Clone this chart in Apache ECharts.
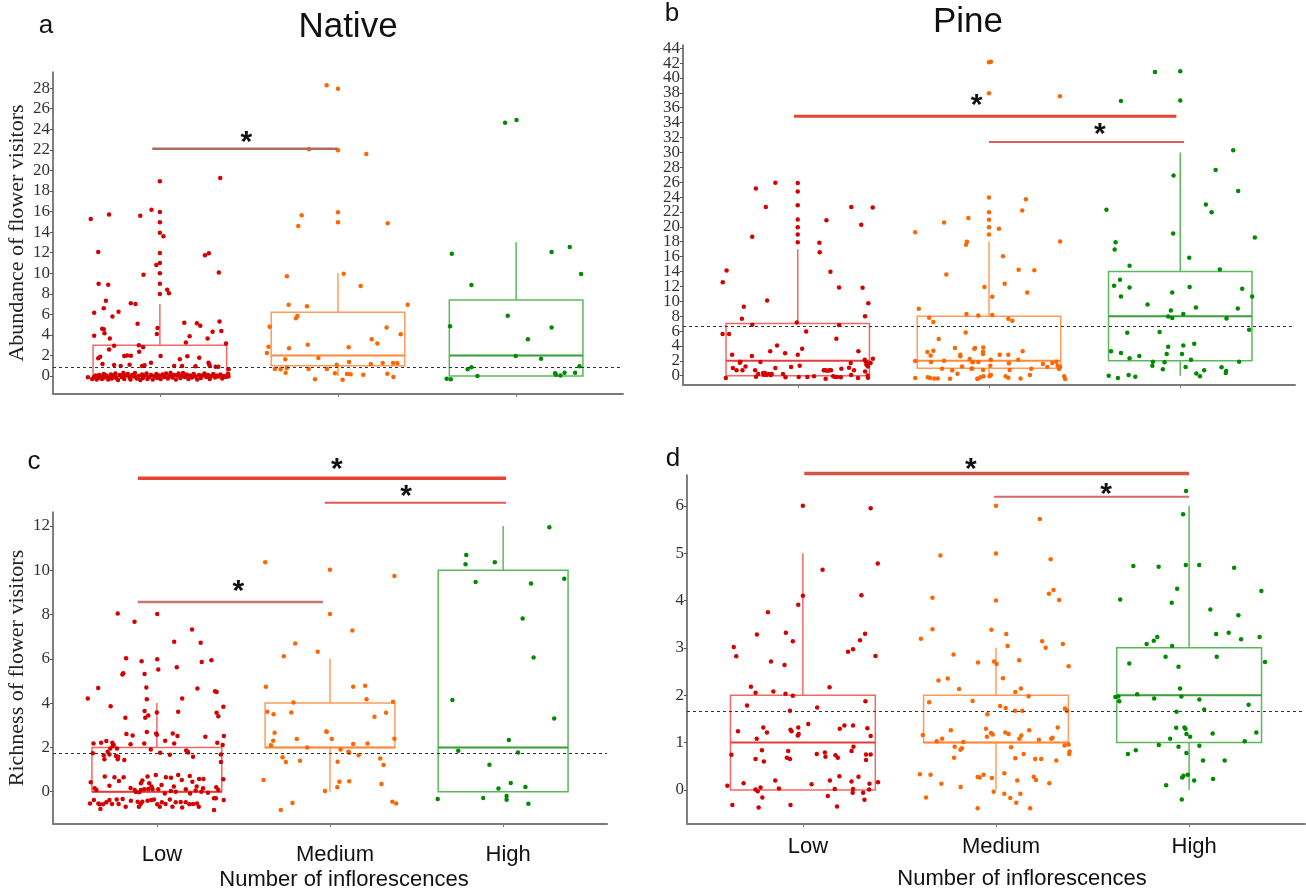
<!DOCTYPE html>
<html><head><meta charset="utf-8">
<script src="https://cdn.jsdelivr.net/npm/echarts@6/dist/echarts.min.js"></script>
<style>html,body{margin:0;padding:0;background:#fff}#c{width:1306px;height:891px}</style>
</head><body><div id="c"></div>
<script>
// ---------- DATA ----------
const categories = ['Low', 'Medium', 'High'];
const aTicks = [0,2,4,6,8,10,12,14,16,18,20,22,24,26,28];
const bTicks = [0,2,4,6,8,10,12,14,16,18,20,22,24,26,28,30,32,34,36,38,40,42,44];
const cTicks = [0,2,4,6,8,10,12];
const dTicks = [0,1,2,3,4,5,6];

// box stats per group: [lowerWhisker, Q1, median, Q3, upperWhisker]
const aBox = [[0,0,0,3,7],[0,1,2,6.2,10],[0,0,2,7.4,13]];
const bBox = [[0,0,2,7,17],[0,1,2,8,18],[0,2,8,14,30]];
const cBox = [[0,0,0,2,4],[0,2,2,4,6],[0,0,2,10,12]];
const dBox = [[0,0,1,2,5],[0,1,1,2,3],[0,1,2,3,6]];

// overall mean (dashed line) per panel a,b,c,d
const meanLines = [0.85, 6.6, 1.73, 1.67];

// significance bars: [fromX, toX, y, asteriskX]
const aSig = [[0.957, 2.0, 22.1, 1.485]];
const bSig = [[0.98, 2.98, 34.85, 1.935], [2.0, 3.02, 31.4, 2.58]];
const cSig = [[0.89, 3.017, 14.15, 2.04], [1.97, 3.017, 13.05, 2.44], [0.89, 1.96, 8.57, 1.47]];
const dSig = [[1.007, 3.0, 6.68, 1.87], [1.99, 3.0, 6.19, 2.57]];

// jittered points: [offset from category centre, value]
const aLow = [
[-0.388,15.27],[-0.346,12.06],[-0.344,8.98],[-0.29,8.88],[-0.285,15.7],[-0.369,6.16],[-0.303,7.33],[-0.315,6.6],[-0.266,5.8],[-0.232,6.26],
[-0.369,3.92],[-0.324,4.6],[-0.315,4.54],[-0.311,4.15],[-0.281,3.66],[-0.257,2.95],[-0.285,2.59],[-0.2,1.95],[-0.184,2.0],[-0.163,1.98],
[-0.335,1.88],[-0.346,1.72],[-0.322,1.17],[-0.257,1.07],[-0.163,7.07],[-0.137,7.0],[-0.11,15.6],[-0.092,9.86],[-0.125,5.09],[-0.118,2.98],
[-0.094,2.79],[-0.116,2.37],[-0.047,16.18],[0,18.94],[0,15.95],[0,14.95],[0,13.94],[0.02,13.59],[0,11.96],[0,11.0],
[-0.02,10.8],[0,9.99],[0,8.98],[0,7.98],[0.041,8.4],[0.051,8.04],[-0.013,4.67],[-0.017,4.09],[0.004,1.95],[-0.05,1.3],
[-0.086,1.04],[0.339,19.26],[0.253,11.74],[0.275,11.93],[0.331,10.08],[0.335,5.29],[0.345,4.38],[0.296,4.31],[0.268,3.66],[0.208,5.12],
[0.227,4.9],[0.137,5.19],[0.167,3.86],[0.146,3.27],[0.154,1.91],[0.221,1.78],[0.112,1.62],[0.371,3.15],[0.273,1.3],[0.277,1.13],
[0.313,0.91],[0.328,0.91],[0.386,0.65],[0.384,0.19],[-0.404,-0.13],
[-0.22,0.97],[-0.17,1.1],[-0.1,0.97],[0.08,0.97],[0.125,0.97],[0.2,0.95],[0.28,0.97],
[-0.38,-0.3],[-0.37,-0.1],[-0.36,0.05],[-0.355,-0.35],[-0.345,-0.2],[-0.34,0.1],[-0.33,-0.05],[-0.325,-0.3],[-0.315,0.2],[-0.31,-0.15],
[-0.3,0.05],[-0.29,-0.35],[-0.285,-0.1],[-0.275,0.15],[-0.27,-0.25],[-0.26,0.0],[-0.25,0.25],[-0.245,-0.2],[-0.235,-0.4],[-0.225,0.1],
[-0.215,-0.1],[-0.205,0.3],[-0.2,-0.3],[-0.19,0.05],[-0.18,0.2],[-0.17,-0.15],[-0.165,-0.35],[-0.155,0.1],[-0.145,-0.05],[-0.14,0.3],
[-0.13,-0.25],[-0.12,0.0],[-0.11,-0.4],[-0.1,0.15],[-0.095,-0.2],[-0.085,0.05],[-0.075,0.25],[-0.07,-0.3],[-0.06,-0.1],[-0.05,0.1],
[-0.04,-0.35],[-0.03,0.0],[-0.02,0.2],[-0.015,-0.2],[-0.005,0.05],[0.005,-0.3],[0.015,0.15],[0.025,-0.1],[0.035,0.25],[0.045,-0.25],
[0.055,0.0],[0.06,0.3],[0.07,-0.15],[0.08,0.1],[0.09,-0.35],[0.1,0.05],[0.105,0.25],[0.115,-0.2],[0.125,0.0],[0.13,0.3],
[0.14,-0.1],[0.15,0.15],[0.16,-0.3],[0.17,0.05],[0.18,-0.15],[0.19,0.2],[0.2,-0.05],[0.21,-0.35],[0.22,0.1],[0.23,-0.2],
[0.24,0.05],[0.25,0.25],[0.26,-0.1],[0.27,0.1],[0.28,-0.3],[0.29,0.0],[0.3,0.2],[0.31,-0.15],[0.32,0.05],[0.33,-0.05],
[0.34,0.15],[0.35,-0.25],[0.36,0.0],[0.37,-0.1],[0.38,0.1],[0.385,-0.05]
];
const aMed = [
[-0.064,28.27],[-0.163,22.05],[-0.204,15.63],[-0.223,14.59],[-0.287,9.7],[-0.277,6.94],[-0.174,6.78],[-0.228,5.84],[-0.236,5.61],[-0.384,4.8],
[-0.39,2.85],[-0.399,2.24],[-0.275,2.69],[-0.17,3.05],[-0.296,1.62],[-0.11,1.75],[-0.354,0.68],[-0.322,0.65],[-0.287,0.78],[-0.294,0.32],
[-0.165,0.68],[-0.062,0.68],[-0.129,-0.32],[0,27.95],[0,21.95],[0.159,21.6],[0,15.92],[0,14.95],[0.279,14.85],[0.032,9.95],
[0.127,8.75],[0.391,6.94],[0.273,4.73],[0.352,4.05],[0.189,3.57],[0.221,3.15],[0.06,2.79],[0.062,1.36],[0.184,1.17],[0.251,1.26],
[0.309,1.26],[0.333,1.23],[-0.007,1.1],[-0.017,0.26],[0.051,0.19],[0.071,0.16],[0.142,0.13],[0.277,0.23],[0.311,-0.1],[0.026,-0.36]
];
const aHigh = [
[-0.062,24.64],[0.002,24.9],[-0.361,11.9],[-0.251,8.85],[0.199,12.06],[0.301,12.55],[0.365,9.92],[-0.047,5.87],[-0.371,4.83],[0.199,4.73],
[0.066,3.57],[-0.002,1.95],[0.14,1.69],[-0.272,0.65],[-0.251,0.84],[0.356,0.94],[-0.39,-0.26],[-0.367,-0.32],[-0.217,0],[0.219,0.26],
[0.223,0.13],[0.249,0.06],[0.272,0.32],[0.331,0.32]
];
const bLow = [
[-0.392,12.57],[-0.372,14.14],[-0.393,5.59],[-0.359,5.59],[-0.343,2.82],[-0.339,1.03],[-0.32,0.72],[-0.376,-0.31],[-0.282,9.26],[-0.292,7.65],
[-0.303,1.74],[-0.3,1.88],[-0.273,1.25],[-0.289,0.72],[-0.238,18.66],[-0.219,25.15],[-0.167,22.68],[-0.117,25.91],[-0.16,10.11],[-0.238,6.85],
[-0.24,2.64],[-0.195,1.83],[-0.223,0.72],[-0.218,-0.13],[-0.207,0.22],[-0.181,0.36],[-0.178,0.13],[-0.171,0.36],[-0.164,0.09],[-0.151,0.22],
[-0.141,0.09],[-0.136,0.22],[-0.144,3.27],[-0.108,4.07],[-0.117,1.03],[-0.077,0.22],[-0.066,3.0],[-0.064,-0.22],[-0.035,1.16],[-0.005,7.16],
[0,25.9],[0,24.74],[0,22.9],[0,20.98],[0,19.96],[0,18.97],[0,17.94],[0,2.82],[0.01,1.34],[0.023,3.62],
[0.044,5.95],[0.005,-0.18],[0.05,-0.18],[0.085,-0.09],[0.113,17.85],[0.115,16.6],[0.15,20.9],[0.171,13.96],[0.216,11.86],[0.202,4.97],
[0.216,6.8],[0.136,0.72],[0.144,0.72],[0.155,0.67],[0.165,0.72],[0.174,0.72],[0.146,-0.4],[0.185,-0.09],[0.195,-0.18],[0.205,-0.18],
[0.225,-0.22],[0.228,0.94],[0.268,1.07],[0.28,22.68],[0.277,1.7],[0.294,0.72],[0.279,0.09],[0.317,3.27],[0.332,20.27],[0.339,11.81],
[0.352,8.0],[0.369,9.75],[0.315,-0.31],[0.35,2.15],[0.355,1.92],[0.362,1.7],[0.359,1.48],[0.367,1.25],[0.352,0.58],[0.366,0.04],
[0.367,-0.27],[0.381,1.7],[0.393,2.28],[0.392,22.6]
];
const bMed = [
[-0.386,19.28],[-0.386,1.97],[-0.386,-0.31],[-0.367,8.99],[-0.313,7.79],[-0.291,7.2],[-0.322,3.18],[-0.291,3.36],[-0.305,2.73],[-0.303,1.83],
[-0.32,-0.22],[-0.308,-0.31],[-0.286,-0.36],[-0.268,-0.36],[-0.263,4.92],[-0.235,20.58],[-0.223,13.6],[-0.245,0.94],[-0.235,2.01],[-0.204,-0.4],
[-0.193,0.72],[-0.178,3.71],[-0.165,0.27],[-0.15,2.82],[-0.15,2.6],[-0.141,1.25],[-0.122,5.82],[-0.12,17.6],[-0.115,18.0],[-0.108,21.2],
[-0.118,8.28],[-0.101,2.24],[-0.092,0.94],[-0.087,1.79],[-0.073,3.71],[-0.061,-0.4],[-0.056,8.1],
[0,42.1],[0.01,42.19],[0,37.94],[0.371,37.54],[0,23.94],[0,21.97],[0,20.94],[0,19.96],[0,18.97],
[0.193,23.71],[0.174,22.19],[0.052,19.73],[0.372,18.03],[0.073,16.06],[0.155,14.23],[0.237,14.18],[-0.024,11.9],[0.082,12.35],[0.2,11.19],
[0.017,10.6],[0.017,8.14],[0.101,7.65],[0.122,7.38],[-0.077,3.62],[-0.03,3.8],[-0.031,3.22],[-0.031,2.91],[0.056,2.82],[0.101,2.82],
[0.176,3.27],[-0.084,1.83],[-0.056,1.83],[0.009,2.15],[0.104,1.66],[0.153,2.15],[0.282,1.57],[0.305,1.16],[0.331,1.7],[0.352,1.88],
[0.359,1.34],[0.372,1.16],[0.366,0.89],[-0.087,0.98],[-0.031,0.76],[0.007,1.34],[0.108,0.76],[0.221,0.94],[-0.059,-0.4],[-0.044,-0.22],
[-0.028,-0.09],[0.003,-0.09],[0.01,0.09],[0.087,-0.09],[0.101,-0.27],[0.165,-0.36],[0.214,0.09],[0.393,-0.09],[0.398,-0.45]
];
const bHigh = [
[-0.132,40.8],[0,40.9],[-0.31,36.9],[0,36.96],[0.277,30.3],[0.185,27.65],[-0.035,26.9],[0.303,24.83],[-0.386,22.28],[0.134,23.0],
[0.164,21.97],[-0.338,17.94],[-0.343,16.96],[-0.037,19.1],[0.39,18.57],[0.047,15.84],[-0.265,14.77],[0.207,14.27],[-0.315,12.89],[-0.346,12.08],
[-0.265,11.86],[-0.31,10.65],[-0.042,11.19],[0.049,11.9],[0.324,11.68],[0.376,10.65],[-0.171,9.57],[-0.049,8.77],[0.082,9.17],[0.301,9.04],
[-0.063,7.96],[-0.042,7.74],[0.016,8.28],[0.242,7.7],[0.36,6.17],[-0.277,5.77],[-0.108,5.86],[-0.063,3.89],[0.016,4.07],[0.073,4.3],
[-0.362,3.27],[-0.31,3.04],[-0.071,2.91],[0.009,2.91],[-0.265,2.33],[-0.214,2.64],[0.056,2.15],[-0.143,1.88],[-0.082,1.79],[0.308,1.88],
[-0.146,1.34],[-0.091,0.85],[0.028,1.16],[0.216,1.12],[0.24,0.63],[0.238,0.36],[0.125,0.72],[0.084,0.31],[0.103,-0.09],[-0.374,0],
[-0.326,-0.31],[-0.27,0.09],[-0.235,-0.13]
];
const cLow = [
[-0.399,4.21],[-0.339,4.68],[-0.386,-0.53],[-0.382,0.42],[-0.37,1.73],[-0.366,2.18],[-0.359,0.15],[-0.349,0.08],
[-0.364,-0.38],[-0.338,-0.53],[-0.326,-0.78],[-0.332,-0.57],[-0.311,-0.57],[-0.292,-0.48],[-0.274,-0.38],[-0.259,-0.56],[-0.232,-0.35],[-0.221,-0.56],
[-0.198,-0.33],[-0.18,-0.68],[-0.15,-0.41],[-0.111,-0.45],[-0.104,-0.68],[-0.094,-0.56],[-0.084,-0.45],[-0.054,-0.41],[-0.033,-0.38],[-0.017,-0.35],
[0.002,-0.57],[0.017,-0.68],[0.029,-0.48],[0.05,-0.56],[0.075,-0.35],[0.09,-0.68],[0.109,-0.48],[0.138,-0.47],[0.146,-0.71],[0.167,-0.48],
[0.188,-0.57],[0.209,-0.56],[0.232,-0.53],[0.242,-0.68],[0.33,-0.3],[0.341,-0.3],[0.33,-0.83],[0.386,-0.38],
[-0.322,2.21],[-0.292,2.29],[-0.257,2.21],[-0.249,2.11],[-0.307,1.64],[-0.303,1.46],[-0.274,1.68],[-0.284,1.8],[-0.269,1.95],[-0.255,2.06],
[-0.236,1.61],[-0.224,1.58],[-0.226,1.46],[-0.23,1.95],[-0.188,1.43],[-0.176,2.6],[-0.14,2.54],[-0.152,2.14],[-0.073,2.17],[-0.058,2.69],
[-0.035,1.91],[-0.004,2.63],[0,2.57],[0.019,1.76],[0.048,2.3],[0.075,1.67],[0.092,2.63],[0.119,2.51],[0.1,2.18],[0.169,1.86],
[0.178,1.8],[0.209,1.58],[0.18,1.77],[0.28,2.48],[0.349,2.21],[0.38,2.11],[0.387,2.51],[0.37,1.34],[0.37,1.68],
[-0.267,3.86],[-0.226,8.05],[-0.129,7.67],[-0.178,6.02],[-0.199,5.29],[-0.194,5.35],[-0.182,3.34],[-0.088,5.89],[-0.071,5.31],[-0.061,4.71],
[-0.058,4.17],[-0.071,3.64],[-0.05,3.44],[-0.067,3.34],[0.002,8.02],[0.002,5.98],[0.008,5.52],[0,3.58],[0.1,6.77],[0.115,5.62],
[0.146,4.21],[0.123,3.61],[0.203,7.32],[0.253,6.72],[0.259,5.86],[0.315,5.94],[0.234,4.66],[0.336,4.53],[0.345,4.5],[0.345,3.56],
[0.355,3.41],[0.384,3.83],
[-0.301,0.68],[-0.274,0.27],[-0.245,0.65],[-0.192,0.65],[-0.219,0.48],[-0.152,0.17],[-0.084,0.5],[-0.092,0.38],[-0.044,0.38],[-0.054,0.68],
[-0.031,0.23],[-0.006,0.75],[0.008,0.11],[0.027,0.3],[0.052,0.65],[0.082,0.63],[0.098,0.23],[0.123,0.75],[0.144,0.53],[0.19,0.71],
[0.205,0.45],[0.23,0.23],[0.244,0.57],[0.269,0.57],[0.295,-0.05],[0.343,0.2],[0.355,0.08],[0.384,0.56],[-0.128,0.08],[-0.121,-0.02],
[-0.102,-0.03],[-0.092,0.08],[-0.073,0.11],[-0.05,0.12],[-0.025,0.11],[0.046,-0.08],[0.081,0.03],[0.109,0],[0.167,0.11],[0.192,-0.08],
[0.224,0.05],[0.257,0],[0.267,0.15]
];
const cMed = [
[-0.374,10.36],[-0.267,6.12],[-0.201,6.69],[-0.071,6.32],[-0.37,4.74],[-0.362,3.61],[-0.326,3.5],[-0.224,3.58],[-0.211,4.03],[-0.32,2.66],
[-0.328,2.3],[-0.341,2.1],[-0.192,2.38],[-0.132,2.0],[-0.019,2.71],[-0.274,1.55],[-0.255,1.34],[-0.173,1.4],[-0.384,0.53],[-0.029,0.03],
[-0.217,-0.51],[-0.284,-0.83],[0,10.02],[0.372,9.74],[0,8.02],[0.129,7.28],[0.134,4.74],[0.203,4.78],[0.211,4.17],[0.364,4.06],
[0.324,3.56],[0.257,3.38],[-0.021,2.72],[0.01,2.38],[0.134,2.15],[0.217,2.18],[0.372,2.39],[0.061,1.91],[0.106,1.8],[0.111,1.76],
[0.165,1.65],[0.29,1.5],[0.309,1.2],[0.044,1.35],[0.054,0.45],[0.042,0.2],[0.111,0.47],[0.297,0.35],[0.36,-0.45],[0.382,-0.53]
];
const cHigh = [
[0.267,11.94],[-0.213,10.69],[-0.217,10.27],[-0.048,10.36],[-0.159,9.47],[0.161,9.4],[0.353,9.61],[0.113,7.82],[0.176,6.06],[-0.293,4.14],
[0.295,3.31],[0.033,2.33],[-0.259,1.85],[0.086,1.77],[-0.079,1.22],[0.044,0.39],[-0.027,0.14],[0.129,0.21],[-0.378,-0.33],[-0.115,-0.29],
[0.02,-0.2],[0.02,-0.36],[0.146,-0.54]
];
const dLow = [
[0,6.0],[0.351,5.95],[0.388,4.78],[0.102,4.65],[0,4.1],[0.303,4.11],[-0.024,3.91],[-0.181,3.75],[-0.238,3.28],[-0.088,3.32],
[-0.052,3.14],[-0.358,3.02],[-0.345,2.82],[-0.165,2.71],[-0.095,2.64],[0.234,2.92],[0.26,2.97],[0.296,3.16],[0.322,3.3],[0.376,2.83],
[-0.269,2.18],[-0.245,2.05],[-0.153,2.08],[-0.09,2.03],[-0.052,1.99],[0.138,2.17],[-0.289,1.78],[-0.067,1.67],[0.074,1.74],[0.324,1.87],
[-0.336,1.24],[-0.205,1.32],[-0.186,1.21],[-0.064,1.27],[-0.059,1.24],[-0.024,1.32],[-0.026,1.15],[-0.022,1.18],[0.028,1.39],[0.191,1.29],
[0.215,1.36],[0.26,1.36],[0.334,1.3],[0.351,1.14],[-0.239,1.08],[-0.37,0.74],[-0.212,0.84],[-0.245,0.65],[-0.202,0.6],[-0.076,0.82],
[-0.083,0.68],[-0.067,0.65],[0.072,0.76],[0.114,0.79],[0.117,0.7],[0.169,0.73],[0.181,0.68],[0.262,0.91],[0.252,0.82],[0.327,0.75],
[0.327,0.63],[0.351,0.75],[-0.307,0.14],[-0.391,0.09],[-0.143,0.2],[-0.124,0.03],[-0.245,0.01],[-0.219,0.05],[-0.234,-0.03],[-0.21,-0.16],
[0.045,0.12],[0.14,0.2],[0.189,0.29],[0.165,0.02],[0.129,-0.13],[0.252,0.18],[0.26,0.02],[0.258,-0.06],[0.288,0.28],[0.312,-0.06],
[0.319,-0.21],[0.345,0.13],[0.343,0.01],[0.389,0.16],[-0.365,-0.32],[-0.229,-0.37],[-0.064,-0.32],[0.177,-0.35]
];
const dMed = [
[-0.288,4.95],[-0.329,4.06],[-0.329,3.39],[-0.389,3.19],[-0.22,2.86],[-0.25,2.35],[-0.298,2.31],[-0.191,2.13],[-0.121,1.88],[-0.346,1.85],
[-0.379,1.16],[-0.234,1.26],[-0.307,1.03],[-0.279,1.08],[-0.169,1.01],[-0.214,0.91],[-0.184,0.85],[-0.177,0.88],[-0.217,0.68],[-0.394,0.33],
[-0.339,0.32],[-0.283,0.13],[-0.183,0.06],[-0.362,-0.16],[-0.095,0.27],[-0.095,-0.39],[-0.093,2.69],
[0,6.0],[0.227,5.72],[0,4.99],[0.283,4.87],[0,4.0],[0.274,4.14],[0.298,4.22],[0.327,4.01],[-0.024,3.38],
[0.053,3.29],[0.06,3.04],[0.239,3.14],[0.257,3.0],[0.346,3.08],[-0.01,2.71],[0.003,2.66],[0.12,2.74],[0.376,2.61],[0.036,2.36],
[0.1,2.07],[0.129,2.14],[0.169,1.98],[0.021,1.77],[0.05,1.73],[-0.045,1.6],[0.098,1.67],[0.136,1.67],[0.357,1.72],[0.367,1.67],
[-0.052,1.29],[-0.047,1.12],[-0.026,1.2],[-0.017,1.17],[0.048,1.21],[0.065,1.18],[0.131,1.15],[0.121,1.08],[0.172,1.26],[0.222,1.06],
[0.286,1.08],[0.293,1.1],[0.32,1.32],[0.355,0.94],[0.376,0.96],[0.381,0.81],[0.379,0.76],[0.078,0.9],[0.143,0.76],[0.1,0.67],
[0.203,0.65],[0.234,0.65],[0.312,0.62],[-0.084,0.26],[-0.064,0.32],[-0.021,0.25],[0.043,0.35],[0.11,0.2],[0.195,0.28],[0.207,0.21],
[0.276,0.14],[-0.012,-0.04],[0.043,-0.08],[0.074,-0.17],[0.126,-0.08],[0.105,-0.27],[0.177,-0.39]
];
const dHigh = [
[-0.016,6.31],[-0.031,5.82],[-0.289,4.73],[-0.158,4.71],[-0.017,4.75],[0.052,4.75],[0.233,4.69],[-0.062,4.25],[-0.357,4.02],[-0.09,3.95],
[0.374,4.2],[0.11,3.81],[0.255,3.69],[0.14,3.29],[0.205,3.32],[0.269,3.18],[0.365,3.23],[-0.22,3.08],[-0.183,3.15],[-0.165,3.23],
[-0.088,3.04],[-0.31,2.67],[-0.122,2.81],[-0.055,2.6],[0.143,2.81],[0.393,2.7],[-0.047,2.14],[-0.382,1.96],[-0.367,1.97],[-0.362,1.87],
[-0.269,2.02],[-0.181,1.93],[-0.04,1.97],[0.053,1.91],[0.078,1.7],[-0.065,1.65],[0.308,1.8],[-0.067,1.31],[-0.024,1.32],[-0.019,1.29],
[-0.014,1.18],[0.005,1.12],[-0.098,1.08],[0.122,1.19],[0.348,1.21],[0.288,1.03],[-0.157,0.95],[-0.055,0.91],[0.053,0.93],[-0.317,0.76],
[-0.276,0.84],[-0.014,0.78],[0.072,0.62],[0.184,0.62],[-0.119,0.1],[-0.036,0.26],[-0.029,0.3],[-0.007,0.32],[0.026,0.2],[0.124,0.23],
[-0.038,-0.2]
];

// ---------- STYLE ----------
const pointColors = ['#d40000', '#ff6600', '#008a00'];
const boxColors = ['#f06868', '#ff9c5c', '#5cb85c'];
const medianColors = ['#e43c3c', '#ff8a3c', '#3a9e3a'];
const BOX_HALF = 0.375;
const sigStyles = [
  [{color:'#b06a62', width:2.5, dy:13}],
  [{color:'#e8452f', width:3, dy:18}, {color:'#d9615a', width:2, dy:14}],
  [{color:'#e8452f', width:3.5, dy:16}, {color:'#e05a4e', width:2, dy:13}, {color:'#c47a72', width:2.5, dy:17}],
  [{color:'#d4553f', width:3.5, dy:11}, {color:'#d46a62', width:2, dy:9}]
];
const panels = [
  {grid:{left:53, top:72, width:570, height:322}, yMin:-1.75, yMax:29.57, ticks:aTicks, groups:[aLow,aMed,aHigh], box:aBox, sig:aSig, yName:'Abundance of flower visitors', showX:false, splitLabels:false},
  {grid:{left:683, top:45, width:612, height:340}, yMin:-1.25, yMax:44.43, ticks:bTicks, groups:[bLow,bMed,bHigh], box:bBox, sig:bSig, yName:'', showX:false, splitLabels:true},
  {grid:{left:53, top:512, width:554, height:312}, yMin:-1.46, yMax:12.63, ticks:cTicks, groups:[cLow,cMed,cHigh], box:cBox, sig:cSig, yName:'Richness of flower visitors', showX:true, xMargin:20, splitLabels:false},
  {grid:{left:687, top:475, width:618, height:349}, yMin:-0.72, yMax:6.65, ticks:dTicks, groups:[dLow,dMed,dHigh], box:dBox, sig:dSig, yName:'', showX:true, xMargin:12, splitLabels:false}
];

const labelStyle = {fontFamily:'Liberation Serif', fontSize:17, color:'#333', margin:3, showMinLabel:true, showMaxLabel:true, hideOverlap:false};
const grids = [], xAxes = [], yAxes = [], series = [];
panels.forEach((p, pi) => {
  grids.push(Object.assign({containLabel:false}, p.grid));
  xAxes.push({
    type:'value', gridIndex:pi, min:0.4, max:3.6,
    axisLine:{show:true, onZero:false, lineStyle:{color:'#7a7a7a', width:2}},
    axisTick:{show:true, customValues:[1,2,3], length:3, lineStyle:{color:'#7a7a7a'}},
    axisLabel:{show:p.showX, customValues:[1,2,3], formatter:v => categories[Math.round(v)-1],
      fontFamily:'Liberation Sans', fontSize:22, color:'#111', margin:p.xMargin || 8, padding:[0,0,0,10]},
    splitLine:{show:false}
  });
  // dense tick labels are split over two label-only axes so none get dropped as overlapping
  const labA = p.splitLabels ? p.ticks.filter((t, i) => i % 2 === 0) : p.ticks;
  const labB = p.splitLabels ? p.ticks.filter((t, i) => i % 2 === 1) : null;
  const yIdx = yAxes.length;
  yAxes.push({
    type:'value', gridIndex:pi, min:p.yMin, max:p.yMax, position:'left',
    name:p.yName, nameLocation:'middle', nameGap:25,
    nameTextStyle:{fontFamily:'Liberation Serif', fontSize:22, color:'#222'},
    axisLine:{show:true, onZero:false, lineStyle:{color:'#555', width:1.5}},
    axisTick:{show:true, customValues:p.ticks, length:3, lineStyle:{color:'#555'}},
    axisLabel:Object.assign({customValues:labA}, labelStyle),
    splitLine:{show:false}
  });
  if (labB) {
    yAxes.push({
      type:'value', gridIndex:pi, min:p.yMin, max:p.yMax, position:'left', offset:0,
      axisLine:{show:false, onZero:false}, axisTick:{show:false},
      axisLabel:Object.assign({customValues:labB}, labelStyle),
      splitLine:{show:false}
    });
  }
  // boxes
  series.push({
    type:'custom', xAxisIndex:pi, yAxisIndex:yIdx, z:1, silent:true,
    data:p.box.map((s, i) => [i+1, s[0], s[1], s[2], s[3], s[4], i]),
    encode:{x:0, y:[1,2,3,4,5]},
    renderItem:(params, api) => {
      const x = api.value(0), lo = api.value(1), q1 = api.value(2), md = api.value(3), q3 = api.value(4), hi = api.value(5), gi = api.value(6);
      const tl = api.coord([x - BOX_HALF, q3]), br = api.coord([x + BOX_HALF, q1]);
      const ml = api.coord([x - BOX_HALF, md]), mr = api.coord([x + BOX_HALF, md]);
      const ph = api.coord([x, hi]), p3 = api.coord([x, q3]), p1 = api.coord([x, q1]), pl = api.coord([x, lo]);
      const bs = {stroke:boxColors[gi], lineWidth:1.5, fill:null};
      return {type:'group', children:[
        {type:'line', shape:{x1:ph[0], y1:ph[1], x2:p3[0], y2:p3[1]}, style:bs},
        {type:'line', shape:{x1:p1[0], y1:p1[1], x2:pl[0], y2:pl[1]}, style:bs},
        {type:'rect', shape:{x:tl[0], y:tl[1], width:br[0]-tl[0], height:br[1]-tl[1]}, style:{stroke:boxColors[gi], lineWidth:1.5, fill:'rgba(0,0,0,0)'}},
        {type:'line', shape:{x1:ml[0], y1:ml[1], x2:mr[0], y2:mr[1]}, style:{stroke:medianColors[gi], lineWidth:2}}
      ]};
    }
  });
  // points
  p.groups.forEach((g, gi) => {
    const s = {
      type:'scatter', xAxisIndex:pi, yAxisIndex:yIdx, z:2, silent:true,
      symbolSize:4.5, itemStyle:{color:pointColors[gi], opacity:1},
      data:g.map(d => [gi + 1 + d[0], d[1]])
    };
    if (gi === 0) {
      s.markLine = {symbol:'none', silent:true, label:{show:false},
        lineStyle:{type:[3,3], color:'#333', width:1}, data:[{yAxis:meanLines[pi]}]};
    }
    series.push(s);
  });
  // significance bars
  series.push({
    type:'custom', xAxisIndex:pi, yAxisIndex:yIdx, z:3, silent:true, clip:false,
    data:p.sig,
    encode:{x:[0,1], y:2},
    renderItem:(params, api) => {
      const st = sigStyles[pi][params.dataIndex];
      const y = api.value(2);
      const a = api.coord([api.value(0), y]), b = api.coord([api.value(1), y]), s = api.coord([api.value(3), y]);
      return {type:'group', children:[
        {type:'line', shape:{x1:a[0], y1:a[1], x2:b[0], y2:b[1]}, style:{stroke:st.color, lineWidth:st.width}},
        {type:'text', x:s[0], y:s[1] - st.dy + 7, style:{text:'*', font:'bold 30px "Liberation Sans"', fill:'#111', align:'center', verticalAlign:'middle'}}
      ]};
    }
  });
});

const textStyle = (t, size) => ({text:t, font:size + 'px "Liberation Sans"', fill:'#111', align:'center', verticalAlign:'middle'});
const option = {
  animation:false,
  backgroundColor:'#fff',
  grid:grids, xAxis:xAxes, yAxis:yAxes, series:series,
  graphic:[
    {type:'text', x:348, y:27, style:textStyle('Native', 35)},
    {type:'text', x:968, y:22, style:textStyle('Pine', 35)},
    {type:'text', x:46, y:26, style:textStyle('a', 26)},
    {type:'text', x:672, y:14, style:textStyle('b', 26)},
    {type:'text', x:34, y:462, style:textStyle('c', 26)},
    {type:'text', x:673, y:459, style:textStyle('d', 26)},
    {type:'text', x:344, y:880, style:textStyle('Number of inflorescences', 22)},
    {type:'text', x:1022, y:879, style:textStyle('Number of inflorescences', 22)}
  ]
};
const chart = echarts.init(document.getElementById('c'), null, {renderer:'canvas'});
chart.setOption(option);
</script>
</body></html>
